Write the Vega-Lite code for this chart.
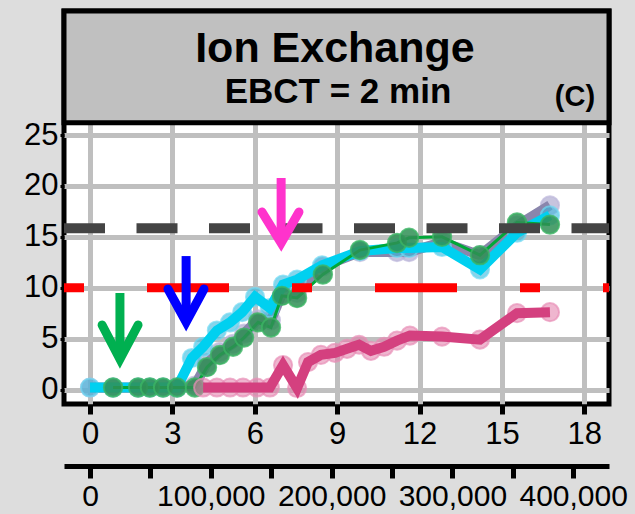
{
  "$schema": "https://vega.github.io/schema/vega-lite/v6.json",
  "width": 545,
  "height": 393,
  "autosize": {"type": "none"},
  "padding": {"left": 64, "top": 11, "right": 26, "bottom": 110},
  "background": "#dddddd",
  "config": {
    "font": "Liberation Sans",
    "view": {"fill": "white", "stroke": "black", "strokeWidth": 5},
    "axis": {"labelFont": "Liberation Sans", "labelColor": "black"}
  },
  "datasets": {
    "series": [
      {"s": "P", "x": 0, "y": 0.2}, {"s": "P", "x": 0.84, "y": 0.2}, {"s": "P", "x": 1.75, "y": 0.2}, {"s": "P", "x": 2.18, "y": 0.2}, {"s": "P", "x": 2.66, "y": 0.2}, {"s": "P", "x": 3.17, "y": 0.2}, {"s": "P", "x": 3.82, "y": 0.4}, {"s": "P", "x": 4.26, "y": 2.6}, {"s": "P", "x": 4.73, "y": 3.7}, {"s": "P", "x": 5.21, "y": 4.5}, {"s": "P", "x": 5.61, "y": 5.5}, {"s": "P", "x": 6.12, "y": 6.9}, {"s": "P", "x": 6.59, "y": 6.8}, {"s": "P", "x": 6.99, "y": 9.4}, {"s": "P", "x": 7.54, "y": 9.5}, {"s": "P", "x": 8.48, "y": 12.1}, {"s": "P", "x": 9.83, "y": 13.5}, {"s": "P", "x": 11.18, "y": 13.5}, {"s": "P", "x": 11.62, "y": 13.5}, {"s": "P", "x": 12.82, "y": 14.5}, {"s": "P", "x": 14.2, "y": 13.2}, {"s": "P", "x": 15.55, "y": 16.1}, {"s": "P", "x": 16.75, "y": 18.1},
      {"s": "C", "x": 0, "y": 0.2}, {"s": "C", "x": 0.84, "y": 0.2}, {"s": "C", "x": 1.75, "y": 0.2}, {"s": "C", "x": 2.18, "y": 0.2}, {"s": "C", "x": 2.66, "y": 0.2}, {"s": "C", "x": 3.17, "y": 0.2}, {"s": "C", "x": 3.71, "y": 3.1}, {"s": "C", "x": 4.12, "y": 4.2}, {"s": "C", "x": 4.62, "y": 5.8}, {"s": "C", "x": 5.1, "y": 6.6}, {"s": "C", "x": 5.54, "y": 7.6}, {"s": "C", "x": 6.01, "y": 9.1}, {"s": "C", "x": 6.55, "y": 8.0}, {"s": "C", "x": 7.03, "y": 10.3}, {"s": "C", "x": 7.54, "y": 10.8}, {"s": "C", "x": 8.45, "y": 12.2}, {"s": "C", "x": 9.83, "y": 13.6}, {"s": "C", "x": 11.18, "y": 13.9}, {"s": "C", "x": 11.62, "y": 13.9}, {"s": "C", "x": 12.82, "y": 14.0}, {"s": "C", "x": 14.2, "y": 11.8}, {"s": "C", "x": 15.55, "y": 15.4}, {"s": "C", "x": 16.75, "y": 17.1},
      {"s": "G", "x": 0.84, "y": 0.2}, {"s": "G", "x": 1.75, "y": 0.2}, {"s": "G", "x": 2.18, "y": 0.2}, {"s": "G", "x": 2.66, "y": 0.2}, {"s": "G", "x": 3.17, "y": 0.2}, {"s": "G", "x": 3.82, "y": 0.2}, {"s": "G", "x": 4.26, "y": 2.2}, {"s": "G", "x": 4.73, "y": 3.4}, {"s": "G", "x": 5.21, "y": 4.2}, {"s": "G", "x": 5.61, "y": 5.1}, {"s": "G", "x": 6.12, "y": 6.6}, {"s": "G", "x": 6.59, "y": 6.1}, {"s": "G", "x": 6.99, "y": 9.2}, {"s": "G", "x": 7.54, "y": 9.0}, {"s": "G", "x": 8.48, "y": 11.3}, {"s": "G", "x": 9.83, "y": 13.7}, {"s": "G", "x": 11.18, "y": 14.4}, {"s": "G", "x": 11.62, "y": 14.9}, {"s": "G", "x": 12.82, "y": 15.0}, {"s": "G", "x": 14.2, "y": 13.2}, {"s": "G", "x": 15.55, "y": 16.4}, {"s": "G", "x": 16.75, "y": 16.2},
      {"s": "M", "x": 4.12, "y": 0.2}, {"s": "M", "x": 4.62, "y": 0.2}, {"s": "M", "x": 5.1, "y": 0.2}, {"s": "M", "x": 5.57, "y": 0.2}, {"s": "M", "x": 6.08, "y": 0.2}, {"s": "M", "x": 6.55, "y": 0.2}, {"s": "M", "x": 7.03, "y": 2.4}, {"s": "M", "x": 7.54, "y": 0.15}, {"s": "M", "x": 7.94, "y": 2.7}, {"s": "M", "x": 8.41, "y": 3.4}, {"s": "M", "x": 8.92, "y": 3.6}, {"s": "M", "x": 9.36, "y": 4.0}, {"s": "M", "x": 9.8, "y": 4.4}, {"s": "M", "x": 10.23, "y": 3.8}, {"s": "M", "x": 10.71, "y": 4.2}, {"s": "M", "x": 11.18, "y": 4.8}, {"s": "M", "x": 11.65, "y": 5.3}, {"s": "M", "x": 12.82, "y": 5.2}, {"s": "M", "x": 14.2, "y": 4.9}, {"s": "M", "x": 15.55, "y": 7.5}, {"s": "M", "x": 16.75, "y": 7.6}
    ],
    "heads": [
      {"a": "green", "o": 1, "x": 0.44, "y": 6.34}, {"a": "green", "o": 2, "x": 1.09, "y": 2.99}, {"a": "green", "o": 3, "x": 1.75, "y": 6.34},
      {"a": "blue", "o": 1, "x": 2.84, "y": 9.87}, {"a": "blue", "o": 2, "x": 3.5, "y": 6.63}, {"a": "blue", "o": 3, "x": 4.15, "y": 9.87},
      {"a": "magenta", "o": 1, "x": 6.26, "y": 17.44}, {"a": "magenta", "o": 2, "x": 6.96, "y": 14.39}, {"a": "magenta", "o": 3, "x": 7.61, "y": 17.44}
    ],
    "shafts": [
      {"a": "green", "x": 1.09, "y": 9.48, "y2": 2.99},
      {"a": "blue", "x": 3.5, "y": 13.11, "y2": 6.63},
      {"a": "magenta", "x": 6.96, "y": 20.78, "y2": 14.39}
    ]
  },
  "layer": [
    {
      "layer": [
        {
          "data": {"values": [{}]},
          "mark": {"type": "rect", "fill": "#c0c0c0", "stroke": "black", "strokeWidth": 5},
          "encoding": {
            "x": {"datum": -0.947, "type": "quantitative"},
            "x2": {"datum": 18.9},
            "y": {"datum": 26.2, "type": "quantitative"},
            "y2": {"datum": 37.18}
          }
        },
        {
          "data": {"name": "series"},
          "transform": [{"filter": "datum.s === 'P'"}],
          "mark": {"type": "circle", "size": 330, "fill": "#a9a4cc", "fillOpacity": 0.65, "stroke": "#bdb8dc", "strokeWidth": 2, "strokeOpacity": 0.7},
          "encoding": {
            "x": {
              "field": "x", "type": "quantitative",
              "scale": {"domain": [-0.947, 18.9], "nice": false, "zero": false},
              "axis": {"title": null, "values": [0, 3, 6, 9, 12, 15, 18], "grid": true, "gridColor": "#bfbfbf", "gridWidth": 5, "domain": false, "ticks": true, "tickColor": "black", "tickWidth": 5, "tickSize": 10, "labelFontSize": 31, "labelPadding": 5, "labelFlush": false, "labelOverlap": false, "orient": "bottom"}
            },
            "y": {
              "field": "y", "type": "quantitative",
              "scale": {"domain": [-1.42, 37.18], "nice": false, "zero": false},
              "axis": {"title": null, "values": [0, 5, 10, 15, 20, 25], "grid": true, "gridColor": "#bfbfbf", "gridWidth": 5, "domain": false, "ticks": true, "tickColor": "black", "tickWidth": 3, "tickSize": 4, "labelFontSize": 31, "labelPadding": 2, "labelFlush": false, "labelOverlap": false}
            }
          }
        },
        {
          "data": {"name": "series"},
          "transform": [{"filter": "datum.s === 'P'"}],
          "mark": {"type": "line", "color": "#8a86ac", "strokeWidth": 10},
          "encoding": {"x": {"field": "x", "type": "quantitative"}, "y": {"field": "y", "type": "quantitative"}}
        },
        {
          "data": {"name": "series"},
          "transform": [{"filter": "datum.s === 'C'"}],
          "mark": {"type": "circle", "size": 330, "fill": "#3ab8dc", "fillOpacity": 0.6, "stroke": "#6fd8f2", "strokeWidth": 2, "strokeOpacity": 0.7},
          "encoding": {"x": {"field": "x", "type": "quantitative"}, "y": {"field": "y", "type": "quantitative"}}
        },
        {
          "data": {"name": "series"},
          "transform": [{"filter": "datum.s === 'C'"}],
          "mark": {"type": "line", "color": "#00d0f0", "strokeWidth": 10},
          "encoding": {"x": {"field": "x", "type": "quantitative"}, "y": {"field": "y", "type": "quantitative"}}
        },
        {
          "data": {"name": "series"},
          "transform": [{"filter": "datum.s === 'G'"}],
          "mark": {"type": "line", "color": "#00a838", "strokeWidth": 3},
          "encoding": {"x": {"field": "x", "type": "quantitative"}, "y": {"field": "y", "type": "quantitative"}}
        },
        {
          "data": {"name": "series"},
          "transform": [{"filter": "datum.s === 'G'"}],
          "mark": {"type": "circle", "size": 340, "fill": "#2f8f55", "fillOpacity": 0.85, "stroke": "#3cb464", "strokeWidth": 2, "strokeOpacity": 0.8},
          "encoding": {"x": {"field": "x", "type": "quantitative"}, "y": {"field": "y", "type": "quantitative"}}
        },
        {
          "data": {"name": "series"},
          "transform": [{"filter": "datum.s === 'M'"}],
          "mark": {"type": "circle", "size": 330, "fill": "#e27aa8", "fillOpacity": 0.55, "stroke": "#e890b8", "strokeWidth": 2, "strokeOpacity": 0.7},
          "encoding": {"x": {"field": "x", "type": "quantitative"}, "y": {"field": "y", "type": "quantitative"}}
        },
        {
          "data": {"name": "series"},
          "transform": [{"filter": "datum.s === 'M'"}],
          "mark": {"type": "line", "color": "#d4407f", "strokeWidth": 10},
          "encoding": {"x": {"field": "x", "type": "quantitative"}, "y": {"field": "y", "type": "quantitative"}}
        },
        {
          "data": {"values": [{}]},
          "mark": {"type": "rule", "color": "#444444", "strokeWidth": 10, "strokeDash": [41, 31.5]},
          "encoding": {"x": {"datum": -0.947, "type": "quantitative"}, "x2": {"datum": 18.9}, "y": {"datum": 15.85, "type": "quantitative"}}
        },
        {
          "data": {"values": [{}]},
          "mark": {"type": "rule", "color": "#ff0000", "strokeWidth": 9, "strokeDash": [20, 63, 82, 63]},
          "encoding": {"x": {"datum": -0.947, "type": "quantitative"}, "x2": {"datum": 18.9}, "y": {"datum": 10, "type": "quantitative"}}
        },
        {
          "data": {"name": "shafts"},
          "mark": {"type": "rule", "strokeWidth": 9, "strokeCap": "butt"},
          "encoding": {
            "x": {"field": "x", "type": "quantitative"},
            "y": {"field": "y", "type": "quantitative"},
            "y2": {"field": "y2"},
            "color": {"field": "a", "type": "nominal", "scale": {"domain": ["green", "blue", "magenta"], "range": ["#00b050", "#0000ff", "#ff33cc"]}, "legend": null}
          }
        },
        {
          "data": {"name": "heads"},
          "mark": {"type": "line", "strokeWidth": 9, "strokeCap": "round", "strokeJoin": "miter"},
          "encoding": {
            "x": {"field": "x", "type": "quantitative"},
            "y": {"field": "y", "type": "quantitative"},
            "order": {"field": "o"},
            "detail": {"field": "a"},
            "color": {"field": "a", "type": "nominal", "scale": {"domain": ["green", "blue", "magenta"], "range": ["#00b050", "#0000ff", "#ff33cc"]}, "legend": null}
          }
        },
        {
          "data": {"values": [{}]},
          "mark": {"type": "text", "font": "Liberation Sans", "fontWeight": "bold", "fontSize": 43, "align": "center", "baseline": "middle", "color": "black"},
          "encoding": {"x": {"datum": 8.92, "type": "quantitative"}, "y": {"datum": 33.4, "type": "quantitative"}, "text": {"value": "Ion Exchange"}}
        },
        {
          "data": {"values": [{}]},
          "mark": {"type": "text", "font": "Liberation Sans", "fontWeight": "bold", "fontSize": 35, "align": "center", "baseline": "middle", "color": "black"},
          "encoding": {"x": {"datum": 9.03, "type": "quantitative"}, "y": {"datum": 29.2, "type": "quantitative"}, "text": {"value": "EBCT = 2 min"}}
        },
        {
          "data": {"values": [{}]},
          "mark": {"type": "text", "font": "Liberation Sans", "fontWeight": "bold", "fontSize": 29, "align": "center", "baseline": "middle", "color": "black"},
          "encoding": {"x": {"datum": 17.66, "type": "quantitative"}, "y": {"datum": 28.7, "type": "quantitative"}, "text": {"value": "(C)"}}
        }
      ]
    },
    {
      "data": {"values": [{}]},
      "mark": {"type": "rule", "opacity": 0},
      "encoding": {
        "x": {
          "datum": 0, "type": "quantitative",
          "scale": {"domain": [-21523, 429636], "nice": false, "zero": false},
          "axis": {"title": null, "orient": "bottom", "offset": 62, "values": [0, 50000, 100000, 150000, 200000, 250000, 300000, 350000, 400000], "labelExpr": "datum.value % 100000 === 0 ? format(datum.value, ',') : ''", "grid": false, "domain": true, "domainColor": "black", "domainWidth": 5, "ticks": true, "tickColor": "black", "tickWidth": 5, "tickSize": 12, "labelFontSize": 30, "labelPadding": 3, "labelFlush": false, "labelOverlap": false}
        }
      }
    }
  ],
  "resolve": {"scale": {"x": "independent"}, "axis": {"x": "independent"}}
}
